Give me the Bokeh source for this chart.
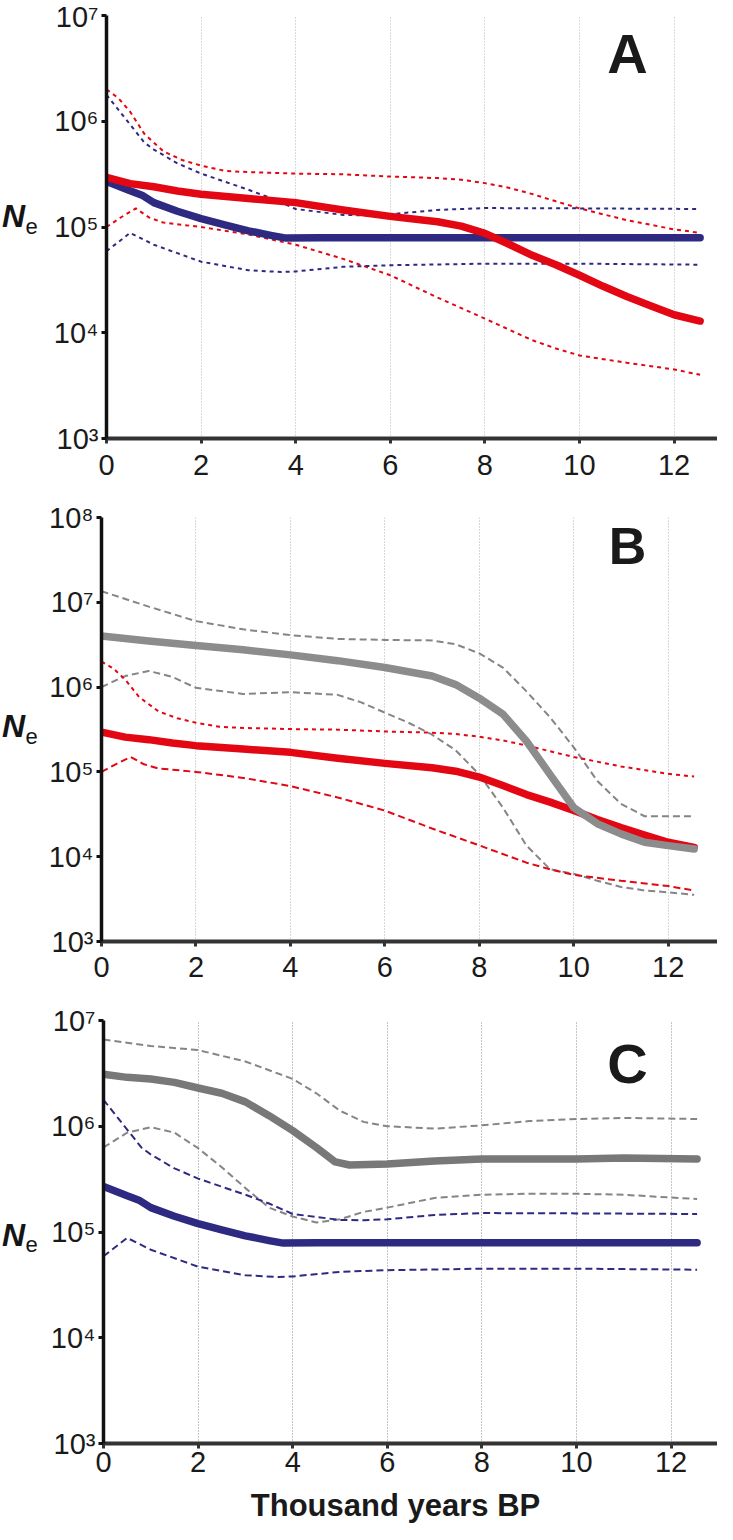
from bokeh.plotting import figure
from bokeh.layouts import column, row
from bokeh.models import FixedTicker, Label, Range1d
from bokeh.core.properties import value
from bokeh.embed import file_html
from bokeh.resources import INLINE

# ---------------- data (thousand years BP, effective population size) -------------
red_t = [0, 0.5, 1, 1.5, 2, 3, 4, 5, 6, 7, 7.5, 8, 8.5, 9, 9.5, 10, 10.5, 11, 11.5, 12, 12.55]
red_mid = [2.95e5, 2.57e5, 2.40e5, 2.19e5, 2.04e5, 1.86e5, 1.70e5, 1.45e5, 1.26e5, 1.12e5, 1.02e5,
           8.7e4, 6.9e4, 5.4e4, 4.4e4, 3.5e4, 2.75e4, 2.2e4, 1.8e4, 1.48e4, 1.29e4]
red_hi_t = [0, 0.25, 0.5, 0.8, 1.2, 1.6, 2, 2.5, 3, 4, 5, 6, 7, 7.5, 8, 8.5, 9, 9.5, 10, 11, 12, 12.55]
red_hi = [2.0e6, 1.66e6, 1.23e6, 7.6e5, 5.2e5, 4.3e5, 3.8e5, 3.4e5, 3.3e5, 3.2e5, 3.15e5, 3.0e5,
          2.9e5, 2.8e5, 2.6e5, 2.35e5, 2.05e5, 1.75e5, 1.5e5, 1.16e5, 9.5e4, 8.8e4]
red_lo_t = [0, 0.3, 0.62, 0.9, 1.2, 2, 3, 4, 5, 6, 7, 8, 9, 9.5, 10, 11, 12, 12.55]
red_lo = [1.0e5, 1.23e5, 1.5e5, 1.23e5, 1.1e5, 1.0e5, 8.5e4, 6.8e4, 5.0e4, 3.5e4, 2.15e4, 1.36e4,
          8.5e3, 7.1e3, 6.1e3, 5.2e3, 4.5e3, 4.0e3]

blue_t = [0, 0.5, 0.75, 1, 1.5, 2, 2.5, 3, 3.5, 3.8, 4.5, 6, 8, 10, 12.55]
blue_mid = [2.7e5, 2.2e5, 2.0e5, 1.7e5, 1.41e5, 1.2e5, 1.05e5, 9.2e4, 8.3e4, 7.85e4, 7.9e4, 7.9e4,
            7.9e4, 7.9e4, 7.9e4]
blue_hi_t = [0, 0.5, 0.8, 1, 1.5, 2, 3, 3.5, 4, 5, 5.5, 6, 7, 8, 10, 12.55]
blue_hi = [1.78e6, 9.3e5, 6.3e5, 5.4e5, 4.0e5, 3.2e5, 2.25e5, 1.86e5, 1.48e5, 1.3e5, 1.29e5, 1.32e5,
           1.45e5, 1.51e5, 1.5e5, 1.48e5]
blue_lo_t = [0, 0.5, 1, 2, 3, 3.7, 4, 5, 6, 8, 10, 12.55]
blue_lo = [5.9e4, 8.8e4, 6.8e4, 4.7e4, 3.9e4, 3.75e4, 3.8e4, 4.2e4, 4.35e4, 4.5e4, 4.5e4, 4.4e4]

grayb_t = [0, 1, 2, 3, 4, 5, 6, 7, 7.5, 8, 8.5, 9, 9.5, 10, 10.5, 11, 11.5, 12, 12.55]
grayb_mid = [4.0e6, 3.5e6, 3.1e6, 2.75e6, 2.4e6, 2.05e6, 1.7e6, 1.35e6, 1.07e6, 7.4e5, 4.8e5, 2.3e5,
             9.3e4, 3.8e4, 2.45e4, 1.86e4, 1.48e4, 1.35e4, 1.23e4]
grayb_hi = [1.35e7, 8.9e6, 6.0e6, 4.8e6, 4.1e6, 3.7e6, 3.6e6, 3.55e6, 3.2e6, 2.5e6, 1.7e6, 8.9e5,
            4.4e5, 1.95e5, 7.8e4, 4.2e4, 3.0e4, 3.0e4, 3.0e4]
grayb_lo_t = [0, 0.5, 1, 1.5, 2, 3, 4, 5, 5.5, 6, 6.5, 7, 7.5, 8, 8.5, 9, 9.5, 10, 10.5, 11, 11.5, 12, 12.55]
grayb_lo = [1.0e6, 1.35e6, 1.55e6, 1.32e6, 9.8e5, 8.3e5, 8.7e5, 8.1e5, 6.6e5, 5.0e5, 3.8e5, 2.75e5,
            1.8e5, 9.3e4, 3.8e4, 1.35e4, 7.1e3, 6.3e3, 5.2e3, 4.4e3, 4.0e3, 3.8e3, 3.55e3]

grayc_t = [0, 0.5, 1, 1.5, 2, 2.5, 3, 3.5, 4, 4.5, 4.9, 5.2, 6, 7, 8, 9, 10, 11, 12.55]
grayc_mid = [3.1e6, 2.9e6, 2.8e6, 2.6e6, 2.3e6, 2.05e6, 1.7e6, 1.26e6, 9.1e5, 6.3e5, 4.6e5, 4.3e5,
             4.4e5, 4.7e5, 4.9e5, 4.9e5, 4.9e5, 5.0e5, 4.9e5]
grayc_hi_t = [0, 1, 2, 3, 4, 4.5, 5, 5.5, 6, 7, 8, 9, 10, 11, 12.55]
grayc_hi = [6.6e6, 5.75e6, 5.25e6, 4.1e6, 2.8e6, 2.05e6, 1.4e6, 1.1e6, 1.0e6, 9.5e5, 1.02e6, 1.12e6,
            1.17e6, 1.2e6, 1.17e6]
grayc_lo_t = [0, 0.5, 1, 1.5, 2, 2.5, 3, 3.5, 4, 4.5, 5, 5.5, 6, 7, 8, 9, 10, 11, 12.55]
grayc_lo = [6.3e5, 8.7e5, 9.8e5, 8.7e5, 6.2e5, 4.1e5, 2.6e5, 1.7e5, 1.4e5, 1.23e5, 1.32e5, 1.55e5,
            1.7e5, 2.1e5, 2.25e5, 2.3e5, 2.3e5, 2.25e5, 2.05e5]

x_ticks = [0, 2, 4, 6, 8, 10, 12]
grid_ticks = [2, 4, 6, 8, 10, 12]
panel_letters = ["A", "B", "C"]
y_title_main = "N"
y_title_sub = "e"
x_title = "Thousand years BP"

RED = "#e30613"
BLUE = "#2e2a82"
GRAY_B = "#8c8c8c"
GRAY_C = "#787878"
GRAY_D = "#858585"
INK = "#151515"
FONT = "Liberation Sans"
SUP = {3: "\u00b3", 4: "\u2074", 5: "\u2075", 6: "\u2076", 7: "\u2077", 8: "\u2078"}
PX_PER_UNIT = 47.3
TOTAL_W = 717
LAB_W = 45


def blank_fig(w, h):
    f = figure(width=w, height=h, x_range=Range1d(0, w), y_range=Range1d(h, 0),
               output_backend="svg", toolbar_location=None,
               x_axis_location=None, y_axis_location=None,
               min_border=0, min_border_left=0, min_border_right=0,
               min_border_top=0, min_border_bottom=0)
    f.outline_line_color = None
    f.xgrid.visible = False
    f.ygrid.visible = False
    return f


def label_fig(h, y_n):
    f = blank_fig(LAB_W, h)
    f.text(x=[13], y=[y_n], text=[y_title_main], text_font=value(FONT),
           text_font_style="bold italic", text_font_size="32px", text_align="center",
           text_baseline="middle", text_color=INK)
    f.text(x=[31], y=[y_n + 12], text=[y_title_sub], text_font=value(FONT),
           text_font_size="22px", text_align="center", text_baseline="middle",
           text_color=INK)
    return f


def make_panel(height, left, top, bottom, e_lo, e_hi, grid_color, x_standoff):
    w = TOTAL_W - LAB_W
    frame_w = TOTAL_W - left
    p = figure(width=w, height=height, y_axis_type="log",
               x_range=Range1d(0, frame_w / PX_PER_UNIT),
               y_range=Range1d(10 ** e_lo, 10 ** e_hi),
               output_backend="svg", toolbar_location=None,
               min_border_left=left - LAB_W, min_border_right=0,
               min_border_top=top, min_border_bottom=bottom)
    p.outline_line_color = None
    p.background_fill_color = "white"
    p.ygrid.visible = False
    p.xgrid.ticker = FixedTicker(ticks=grid_ticks)
    p.xgrid.grid_line_color = grid_color
    p.xgrid.grid_line_dash = "1 2"
    p.xgrid.grid_line_width = 1

    p.xaxis.ticker = FixedTicker(ticks=x_ticks, minor_ticks=[])
    exps = list(range(e_lo, e_hi + 1))
    p.yaxis.ticker = FixedTicker(ticks=[10 ** e for e in exps], minor_ticks=[])
    p.yaxis.major_label_overrides = {10 ** e: "10" + SUP[e] for e in exps}

    for ax in (p.xaxis, p.yaxis):
        ax.major_label_text_font = FONT
        ax.major_label_text_font_size = "29px"
        ax.major_label_text_color = "#1a1a1a"
        ax.major_tick_in = 0
        ax.major_tick_out = 5
        ax.major_tick_line_width = 3
        ax.minor_tick_line_color = None
    p.yaxis.axis_line_width = 3.5
    p.yaxis.axis_line_color = "#111111"
    p.yaxis.major_tick_line_color = "#111111"
    p.yaxis.major_label_standoff = 3
    p.xaxis.axis_line_width = 4
    p.xaxis.axis_line_color = "#333333"
    p.xaxis.major_tick_line_color = "#333333"
    p.xaxis.major_label_standoff = x_standoff
    return p


def y_at(px_from_top, frame_h, e_lo, e_hi):
    return 10 ** (e_hi - px_from_top / frame_h * (e_hi - e_lo))


def add_letter(p, left, letter, ypos, size):
    p.add_layout(Label(x=(627 - left) / PX_PER_UNIT, y=ypos, text=letter, text_font=FONT,
                       text_font_style="bold", text_font_size=size, text_align="center",
                       text_baseline="alphabetic", text_color="#1a1a1a"))


SOLID = dict(line_width=7.5, line_cap="round", line_join="round")

# ---------------- Panel A (global y 0..492) ----------------
hA, lA, tA, bA = 492, 106, 15, 54
fA = hA - tA - bA
pA = make_panel(hA, lA, tA, bA, 3, 7, "#b5b5b5", 11)
pA.line(red_hi_t, red_hi, color=RED, line_width=2, line_dash="4 4")
pA.line(red_lo_t, red_lo, color=RED, line_width=2, line_dash="4 4")
pA.line(blue_hi_t, blue_hi, color=BLUE, line_width=2, line_dash="4 4")
pA.line(blue_lo_t, blue_lo, color=BLUE, line_width=2, line_dash="4 4")
pA.line(blue_t, blue_mid, color=BLUE, **SOLID)
pA.line(red_t, red_mid, color=RED, **SOLID)
add_letter(pA, lA, panel_letters[0], y_at(53 - tA, fA, 3, 7), "56px")

# ---------------- Panel B (global y 492..992) ----------------
hB, lB, tB, bB = 500, 100, 25, 51
fB = hB - tB - bB
pB = make_panel(hB, lB, tB, bB, 3, 8, "#b0b0b0", 10)
pB.line(grayb_t, grayb_hi, color=GRAY_D, line_width=2, line_dash="7 4")
pB.line(grayb_lo_t, grayb_lo, color=GRAY_D, line_width=2, line_dash="7 4")
pB.line(red_hi_t, red_hi, color=RED, line_width=2, line_dash="4 4")
pB.line(red_lo_t, red_lo, color=RED, line_width=2, line_dash="7 4")
pB.line(red_t, red_mid, color=RED, **SOLID)
pB.line(grayb_t, grayb_mid, color=GRAY_B, **SOLID)
add_letter(pB, lB, panel_letters[1], y_at(545 - 492 - tB, fB, 3, 8), "52px")

# ---------------- Panel C (global y 992..1484) ----------------
hC, lC, tC, bC = 492, 103, 28, 41
fC = hC - tC - bC
pC = make_panel(hC, lC, tC, bC, 3, 7, "#8a8a8a", 3)
pC.line(grayc_hi_t, grayc_hi, color=GRAY_D, line_width=2, line_dash="7 4")
pC.line(grayc_lo_t, grayc_lo, color=GRAY_D, line_width=2, line_dash="7 4")
pC.line(blue_hi_t, blue_hi, color=BLUE, line_width=2, line_dash="7 4")
pC.line(blue_lo_t, blue_lo, color=BLUE, line_width=2, line_dash="7 4")
pC.line(grayc_t, grayc_mid, color=GRAY_C, **SOLID)
pC.line(blue_t, blue_mid, color=BLUE, **SOLID)
add_letter(pC, lC, panel_letters[2], y_at(1063 - 992 - tC, fC, 3, 7), "56px")

# ---------------- y-axis titles (N_e) and x-axis title ----------------
labA = label_fig(hA, 233)
labB = label_fig(hB, 738 - 492)
labC = label_fig(hC, 1241 - 992)

hT = 40
title_fig = blank_fig(TOTAL_W, hT)
title_fig.text(x=[395], y=[21], text=[x_title], text_font=value(FONT),
               text_font_style="bold", text_font_size="31px", text_align="center",
               text_baseline="middle", text_color="#1a1a1a")

layout = column(row(labA, pA, spacing=0), row(labB, pB, spacing=0),
                row(labC, pC, spacing=0), title_fig, spacing=0)
open("out.html", "w").write(file_html(layout, INLINE))
